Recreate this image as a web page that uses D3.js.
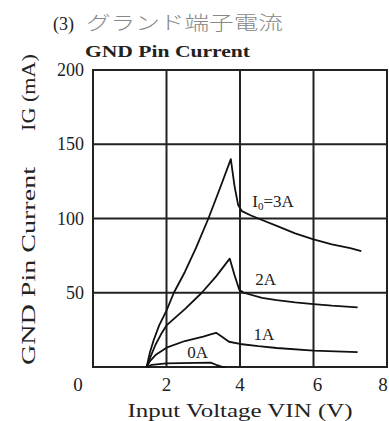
<!DOCTYPE html>
<html>
<head>
<meta charset="utf-8">
<script src="https://cdn.jsdelivr.net/npm/d3@7"></script>
<style>
  body { margin: 0; background: #fff; }
  svg { display: block; }
</style>
</head>
<body>
<div id="chart"></div>
<script>
(function(){
  // [VIN (V), IG (mA)]
  const curve3A = [[1.46,0],[1.55,10],[1.65,18],[1.8,28],[2.0,38],[2.2,50],[2.5,64],[2.8,80],[3.14,100],[3.45,120],[3.75,140],[3.85,122],[3.95,109],[4.05,105],[4.3,102],[4.6,99],[5.0,95],[5.5,90],[6.0,86],[6.5,82.5],[7.0,80],[7.3,78]];
  const curve2A = [[1.46,0],[1.55,6],[1.7,15],[1.85,22],[2.0,28],[2.5,39],[2.96,50],[3.35,61],[3.72,73],[3.85,62],[3.98,52],[4.1,50],[4.6,46.5],[5.0,45],[5.5,43.5],[6.0,42.4],[6.5,41.3],[7.2,40.2]];
  const curve1A = [[1.46,0],[1.55,4],[1.7,8],[2.0,13],[2.5,17.5],[3.0,20.5],[3.2,22],[3.35,23],[3.5,20.5],[3.7,17],[4.0,15.5],[4.5,14],[5.0,12.8],[6.0,11],[7.2,10]];
  const curve0A = [[1.46,0],[1.6,1.5],[2.0,2.5],[3.2,3],[3.35,1.5],[3.5,0.3],[3.6,0]];

  const xTicks = [0, 2, 4, 6, 8];
  const yTicks = [0, 50, 100, 150, 200];
  const yTickLabels = ["", "50", "100", "150", "200"];

  // label anchor points [V, mA]
  const curveLabels = [
    { name: "3A", at: [4.9, 108] },
    { name: "2A", at: [4.7, 55] },
    { name: "1A", at: [4.65, 18] },
    { name: "0A", at: [2.85, 6] }
  ];

  const serif = "'Liberation Serif', 'DejaVu Serif', 'Times New Roman', serif";
  const width = 389, height = 421;
  const svg = d3.select("#chart").append("svg")
    .attr("width", width)
    .attr("height", height)
    .attr("fill", "#222");

  const x = d3.scaleLinear().domain([0, 8]).range([93, 387]);
  const y = d3.scaleLinear().domain([0, 200]).range([367, 70]);

  // grid
  svg.append("g")
    .selectAll("line")
    .data(xTicks.slice(1, -1))
    .join("line")
    .attr("x1", d => x(d)).attr("x2", d => x(d))
    .attr("y1", y(0)).attr("y2", y(200))
    .attr("stroke", "#222").attr("stroke-width", 2);

  svg.append("g")
    .selectAll("line")
    .data(yTicks.slice(1, -1))
    .join("line")
    .attr("x1", x(0)).attr("x2", x(8))
    .attr("y1", d => y(d)).attr("y2", d => y(d))
    .attr("stroke", "#222").attr("stroke-width", 2);

  svg.append("rect")
    .attr("x", x(0)).attr("y", y(200))
    .attr("width", x(8) - x(0)).attr("height", y(0) - y(200))
    .attr("fill", "none").attr("stroke", "#222").attr("stroke-width", 2);

  // curves
  const line = d3.line().x(d => x(d[0])).y(d => y(d[1]));
  svg.append("g")
    .selectAll("path")
    .data([curve3A, curve2A, curve1A, curve0A])
    .join("path")
    .attr("d", line)
    .attr("fill", "none")
    .attr("stroke", "#111")
    .attr("stroke-width", 1.8)
    .attr("stroke-linejoin", "round");

  // tick labels
  svg.append("g")
    .selectAll("text")
    .data(yTicks)
    .join("text")
    .attr("x", 84)
    .attr("y", d => y(d) + 6)
    .attr("text-anchor", "end")
    .attr("font-size", 18)
    .text((d, i) => yTickLabels[i]);

  svg.append("g")
    .selectAll("text")
    .data(xTicks)
    .join("text")
    .attr("x", d => x(d) + (d === 0 ? -15 : d === 6 ? 4 : d === 8 ? -4 : 0))
    .attr("y", 391)
    .attr("text-anchor", "middle")
    .attr("font-size", 19)
    .text(d => d);

  // curve labels
  const lab = svg.append("g").attr("font-size", 17);
  curveLabels.forEach(c => {
    const t = lab.append("text")
      .attr("x", x(c.at[0]))
      .attr("y", y(c.at[1]))
      .attr("text-anchor", "middle");
    if (c.name === "3A") {
      t.append("tspan").text("I");
      t.append("tspan").attr("font-size", 11).attr("dy", 3).text("0");
      t.append("tspan").attr("dy", -3).text("=3A");
    } else {
      t.text(c.name);
    }
  });

  // titles
  svg.append("text")
    .attr("x", 53).attr("y", 30)
    .attr("font-size", 18)
    .text("(3)");

  svg.append("text")
    .attr("x", 85).attr("y", 57)
    .attr("font-size", 17)
    .attr("font-weight", "bold")
    .attr("textLength", 165)
    .attr("lengthAdjust", "spacingAndGlyphs")
    .text("GND Pin Current");

  svg.append("text")
    .attr("x", 240).attr("y", 417)
    .attr("text-anchor", "middle")
    .attr("font-size", 19)
    .attr("textLength", 225)
    .attr("lengthAdjust", "spacingAndGlyphs")
    .text("Input Voltage VIN (V)");

  svg.append("text")
    .attr("transform", "translate(35,365) rotate(-90)")
    .attr("font-size", 19)
    .attr("textLength", 198)
    .attr("lengthAdjust", "spacingAndGlyphs")
    .text("GND Pin Current");
  svg.append("text")
    .attr("transform", "translate(35,131) rotate(-90)")
    .attr("font-size", 19)
    .attr("textLength", 77)
    .attr("lengthAdjust", "spacingAndGlyphs")
    .text("IG (mA)");

  svg.selectAll("text").style("font-family", serif);

  svg.append("text")
    .attr("x", 86).attr("y", 30)
    .attr("font-size", 19)
    .attr("textLength", 197)
    .attr("lengthAdjust", "spacingAndGlyphs")
    .style("font-family", "'Noto Sans CJK JP', sans-serif")
    .attr("fill", "#888")
    .style("font-weight", 300)
    .text("グランド端子電流");
})();
</script>
</body>
</html>
